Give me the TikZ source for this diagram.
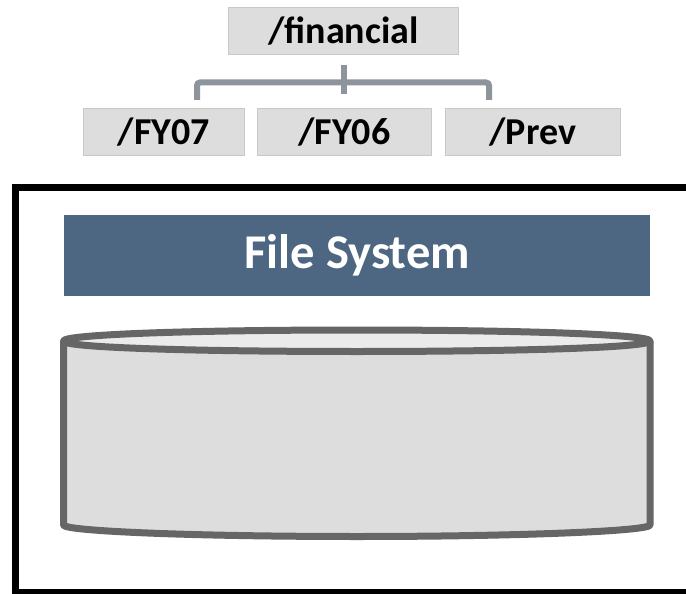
\documentclass[tikz,border=0pt]{standalone}
\usepackage{fontspec}
\setmainfont{Carlito}
\definecolor{boxfill}{HTML}{DDDDDD}
\definecolor{boxline}{HTML}{C8C8C8}
\definecolor{conn}{HTML}{8E949B}
\definecolor{banner}{HTML}{4D6782}
\definecolor{cyl}{HTML}{666666}
\definecolor{cyltop}{HTML}{EBEBEB}
\tikzset{
  dirbox/.style={draw=boxline,line width=0.8pt,fill=boxfill,inner sep=0pt,font=\bfseries\fontsize{38}{40}\selectfont,text=black,anchor=north west},
  connline/.style={draw=conn,line width=6pt,rounded corners=3pt},
}
\begin{document}
\begin{tikzpicture}[x=1pt,y=-1pt]
\useasboundingbox (0,0) rectangle (686,594);
\clip (0,0) rectangle (686,594);
% directory boxes
\node[dirbox,minimum width=230pt,minimum height=47pt] (fin) at (228,7) {/financial};
\node[dirbox,minimum width=161pt,minimum height=47pt] (fy7) at (83,108) {/FY07};
\node[dirbox,minimum width=174pt,minimum height=47pt] (fy6) at (257,108) {/FY06};
\node[dirbox,minimum width=175pt,minimum height=47pt] (prev) at (445,108) {/Prev};
% connectors
\coordinate (trunkTop) at (344,65);
\coordinate (trunkEnd) at (344,94);
\coordinate (legL) at (197,100);
\coordinate (legR) at (489,100);
\draw[connline] (legL) -- (197,82.5) -- (489,82.5) -- (legR);
\draw[conn,line width=6.5pt] (trunkTop) -- (trunkEnd);
% outer frame
\draw[black,line width=7pt] (720,187) -- (15.5,187) -- (15.5,592.5) -- (720,592.5);
% banner
\node[fill=banner,text=white,inner sep=0pt,minimum width=586pt,minimum height=81pt,anchor=north west,font=\bfseries\fontsize{48.5}{50}\selectfont] (fs) at (64,215) {File System};
% cylinder
\filldraw[draw=cyl,fill=boxfill,line width=7pt,line join=round]
  (63.5,341) -- (63.5,525) .. controls (63.5,531) and (190,536.5) .. (357,536.5) .. controls (520,536.5) and (650,531) .. (650,525) -- (650,341);
\filldraw[draw=cyl,fill=cyltop,line width=7pt,line join=round]
  (63.5,341) .. controls (63.5,334.5) and (190,330) .. (357,330) .. controls (520,330) and (650,334.5) .. (650,341)
  .. controls (650,347.5) and (520,351.5) .. (357,351.5) .. controls (190,351.5) and (63.5,347.5) .. cycle;
\end{tikzpicture}
\end{document}
